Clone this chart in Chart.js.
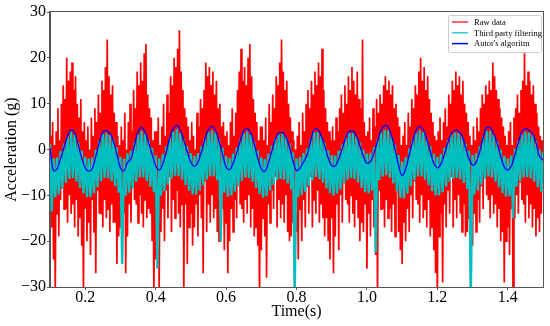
<!DOCTYPE html>
<html><head><meta charset="utf-8">
<script src="https://cdn.jsdelivr.net/npm/chart.js@4/dist/chart.umd.min.js"></script>
<style>html,body{margin:0;padding:0;background:#fff}#wrap{width:550px;height:326px;position:relative}</style>
</head><body><div id="wrap"><canvas id="c" width="550" height="326"></canvas></div>
<script>
const seriesNames = ['Raw data', 'Third party filtering', "Autor's algoritm"];
const seriesColors = ['#ff0000', '#00bfbf', '#0000ff'];
const tStart = 0.1;
const rawStep = 0.0025;
const filteredStep = 0.005;
const algorithmStep = 0.01;
const xTicks = [0.2, 0.4, 0.6, 0.8, 1.0, 1.2, 1.4];
const yTicks = [-30, -20, -10, 0, 10, 20, 30];

const rawData = [
-10,3,-17,6,-24,1,-31,4,-14,9,-19,2,-11,10,-8,14,-13,11,-13,20,-16,15,-10,17,-14,19,-12,13,-17,16,-11,10,-19,7,-15,11,-21,4,-32,6,
-13,2,-20,5,-16,0,-23,7,-11,3,-18,9,-27,6,-9,12,-14,8,-14,15,-17,13,-11,18,-15,24,-13,16,-18,12,-12,14,-16,8,-16,6,-25,3,-19,1,
-17,5,-22,2,-14,8,-27,0,-19,6,-12,10,-16,4,-8,13,-11,9,-12,17,-16,14,-10,19,-14,15,-17,21,-11,23,-15,12,-13,9,-14,7,-20,2,-33,4,
-24,4,-15,7,-31,1,-18,5,-13,10,-20,3,-9,12,-15,8,-6,16,-18,14,-11,20,-15,18,-9,22,-14,26,-17,17,-12,13,-32,9,-12,7,-25,5,-17,2,
-14,6,-21,3,-17,0,-12,8,-19,5,-10,11,-15,9,-27,13,-7,19,-18,16,-12,18,-16,14,-10,17,-15,12,-13,15,-18,9,-20,10,-18,5,-13,6,-22,3,
-16,4,-27,1,-20,6,-13,9,-18,3,-11,8,-15,13,-8,17,-12,22,-13,15,-16,18,-11,14,-14,20,-10,23,-17,16,-13,11,-19,8,-17,6,-21,2,-33,5,
-22,5,-15,2,-19,7,-28,1,-12,10,-16,6,-9,12,-13,9,-6,16,-17,14,-11,19,-15,24,-12,17,-16,13,-10,15,-18,10,-20,7,-19,4,-16,2,-34,0,
-18,3,-24,6,-13,1,-20,8,-11,4,-17,10,-8,13,-14,9,-6,15,-17,12,-11,17,-14,14,-9,19,-16,16,-12,22,-15,13,-19,9,-15,6,-20,4,-24,2,
-15,5,-27,2,-19,7,-12,4,-22,9,-10,12,-16,8,-7,14,-11,10,-12,16,-16,13,-10,18,-14,15,-17,12,-11,17,-15,11,-20,9,-16,24,-18,6,-12,3,
-26,4,-14,7,-19,2,-11,9,-17,5,-23,11,-33,8,-9,12,-13,10,-13,14,-17,16,-11,13,-15,15,-13,12,-18,14,-12,9,-19,10,-9,7,-18,5,-22,1,
-25,3,-16,6,-20,1,-13,8,-18,5,-10,11,-15,9,-7,14,-11,12,-12,17,-16,20,-10,15,-15,18,-13,13,-17,16,-11,11,-19,8,-17,6,-22,3,-27,2,
-33,4,-19,7,-14,2,-29,6,-12,9,-17,5,-9,12,-14,10,-6,15,-17,13,-11,17,-15,14,-10,16,-14,12,-18,15,-12,10,-19,8,-18,6,-15,3,-34,1,
-21,5,-14,2,-18,7,-11,4,-16,9,-8,12,-13,10,-6,14,-10,12,-11,15,-15,13,-10,19,-14,16,-12,13,-17,11,-13,9,-20,7,-18,5,-29,3,-20,1,
-17,4,-23,6,-13,1,-33,7,-15,9,-10,12,-14,8,-7,13,-11,15,-12,21,-16,14,-10,17,-15,15,-12,12,-17,14,-13,10,-19,8,-15,5,-18,3,-14,2,
-6
];

const filteredData = [
1.2,-13.5, -1.9,-10.4, -1.7,-9.8, -0.3,-8.6, 1.3,-7.3, 2.9,-6.4, 3.8,-6.2, 3.3,-7.0, 1.6,-8.4, -0.2,-9.6,
-1.6,-10.4, -2.0,-10.4, -1.7,-9.6, 0.0,-8.2, 2.0,-6.9, 3.4,-6.2, 3.6,-6.3, 3.2,-6.9, 2.2,-8.0, 0.4,-9.4,
-1.6,-25, -2.0,-10.1, -0.8,-9.4, -0.3,-8.5, 1.6,-7.0, 3.4,-6.1, 4.1,-6.1, 3.4,-6.9, 2.0,-8.1, 0.4,-9.3,
-1.2,-26, -1.9,-10.1, -1.0,-9.1, 0.7,-7.7, 2.6,-6.4, 3.9,-5.7, 4.4,-5.8, 3.7,-6.6, 2.3,-7.8, 0.7,-9.0,
-0.8,-9.8, -1.4,-9.8, -0.8,-9.0, 0.7,-7.8, 2.4,-6.6, 3.8,-5.9, 4.2,-5.9, 3.7,-6.7, 2.2,-20, 0.4,-9.4,
-1.4,-10.3, -1.8,-10.0, -0.9,-9.2, 0.5,-8.0, 2.2,-6.8, 3.6,-6.1, 3.9,-6.2, 3.3,-7.0, 1.8,-8.4, -0.2,-9.7,
-1.7,-10.5, -2.1,-10.2, -0.9,-9.0, 0.8,-7.7, 2.5,-6.7, 3.3,-6.4, 3.4,-6.6, 2.8,-7.4, 1.3,-8.7, -0.6,-31,
-1.9,-10.4, -1.6,-9.9, -0.7,-9.2, 0.2,-8.0, 2.2,-6.7, 3.8,-6.0, 3.8,-6.4, 2.9,-7.2, 1.5,-8.5, -0.2,-9.5,
-1.2,-10.0, -1.3,-9.6, -0.3,-8.7, 1.1,-7.5, 2.7,-6.6, 3.6,-6.2, 3.6,-6.5, 2.9,-7.2, 1.5,-8.4, 0.0,-9.3,
-0.9,-9.6, -0.7,-9.0, 0.5,-22.5, 2.2,-6.7, 3.7,-5.9, 4.3,-5.6, 4.2,-6.2, 2.9,-7.4, 1.0,-9.1, -1.2,-10.5,
-2.6,-10.7, -1.7,-9.6, 0.2,-8.0, 2.2,-6.7, 3.7,-5.9, 4.2,-5.9, 3.8,-6.6, 2.4,-7.8, 0.7,-9.1, -0.9,-10.0,
-1.6,-10.0, -1.0,-9.3, 0.4,-8.1, 2.0,-7.0, 3.2,-6.3, 3.7,-6.2, 3.6,-6.5, 2.9,-7.3, 1.3,-8.6, -0.3,-32,
-1.2,-9.8, -0.8,-9.0, 0.7,-7.7, 2.6,-6.4, 4.1,-5.8, 4.1,-6.1, 3.2,-7.0, 1.8,-8.3, 0.0,-9.5, -1.4,-10.3,
-1.9,-10.2, -1.3,-15, 0.2,-8.1, 2.0,-6.9, 3.4,-6.1, 3.9,-6.0, 3.7,-6.3, 3.2,-7.0, 2.0,-8.2, 0.0,-9.2,
-0.5
];

const algorithmData = [
0.3,-4.6,-4.2,-2.0,0.5,3.0,4.3,3.6,1.0,-1.8,
-4.0,-4.7,-4.2,-1.5,1.5,3.8,4.1,3.5,1.8,-1.0,
-4.0,-4.7,-2.8,-2.0,1.0,3.8,4.8,3.8,1.5,-1.0,
-3.5,-4.5,-3.2,-0.5,2.5,4.6,5.3,4.2,2.0,-0.5,
-2.8,-3.7,-2.8,-0.5,2.2,4.4,5.0,4.2,1.8,-1.0,
-3.8,-4.4,-3.0,-0.8,1.8,4.0,4.6,3.6,1.2,-1.8,
-4.2,-4.8,-3.0,-0.3,2.3,3.6,3.7,2.8,0.5,-2.5,
-4.6,-4.0,-2.7,-1.2,1.8,4.3,4.4,3.0,0.8,-1.8,
-3.5,-3.6,-2.0,0.2,2.6,4.0,4.0,3.0,0.8,-1.5,
-3.0,-2.6,-0.8,1.8,4.2,5.2,5.0,3.0,0.0,-3.5,
-5.7,-4.2,-1.2,1.8,4.2,5.0,4.3,2.2,-0.5,-3.0,
-4.0,-3.2,-1.0,1.5,3.5,4.2,4.0,3.0,0.5,-2.0,
-3.4,-2.8,-0.5,2.5,4.8,4.8,3.5,1.2,-1.5,-3.8,
-4.5,-3.6,-1.2,1.5,3.8,4.6,4.2,3.5,1.5,-1.5,
-2.3
];

function toPoints(values, step) {
  return values.map((v, i) => ({ x: +(tStart + i * step).toFixed(5), y: v }));
}

const serif = "'Liberation Serif', 'Times New Roman', serif";
Chart.defaults.font.family = serif;
Chart.defaults.color = '#000';

const frameAndLegend = {
  id: 'frameAndLegend',
  afterDraw(chart) {
    const { ctx, chartArea: a } = chart;
    ctx.save();
    ctx.strokeStyle = '#555';
    ctx.lineWidth = 1;
    ctx.strokeRect(Math.round(a.left) - 0.5, Math.round(a.top) - 0.5, Math.round(a.right - a.left) + 1, Math.round(a.bottom - a.top) + 1);
    const bx = 448, by = 15, bw = 93, bh = 37;
    ctx.fillStyle = 'rgba(255,255,255,0.85)';
    ctx.strokeStyle = '#cccccc';
    ctx.beginPath();
    ctx.roundRect(bx + 0.5, by + 0.5, bw, bh, 2);
    ctx.fill();
    ctx.stroke();
    ctx.font = '8.5px ' + serif;
    ctx.textBaseline = 'middle';
    ctx.textAlign = 'left';
    chart.data.datasets.forEach((ds, i) => {
      const yy = 22 + i * 10.8;
      ctx.strokeStyle = ds.borderColor;
      ctx.lineWidth = i === 2 ? 1.5 : 1.2;
      ctx.beginPath();
      ctx.moveTo(452, yy);
      ctx.lineTo(468, yy);
      ctx.stroke();
      ctx.fillStyle = '#000';
      ctx.fillText(ds.label, 474, yy + 0.5);
    });
    ctx.restore();
  }
};

new Chart(document.getElementById('c'), {
  type: 'line',
  data: {
    datasets: [
      { label: seriesNames[0], data: toPoints(rawData, rawStep), borderColor: seriesColors[0], borderWidth: 1.7, pointRadius: 0, tension: 0, order: 3 },
      { label: seriesNames[1], data: toPoints(filteredData, filteredStep), borderColor: seriesColors[1], borderWidth: 2.4, pointRadius: 0, tension: 0, order: 2 },
      { label: seriesNames[2], data: toPoints(algorithmData, algorithmStep), borderColor: seriesColors[2], borderWidth: 1.3, pointRadius: 0, tension: 0.4, order: 1 }
    ]
  },
  options: {
    responsive: false,
    animation: false,
    devicePixelRatio: 1,
    parsing: false,
    layout: { padding: { top: 12, right: 7, left: 0, bottom: 0 } },
    plugins: { legend: { display: false }, tooltip: { enabled: false } },
    scales: {
      x: {
        type: 'linear', min: 0.1, max: 1.5,
        afterBuildTicks: s => { s.ticks = xTicks.map(v => ({ value: v })); },
        afterFit: s => { s.height = 39; },
        grid: { display: true, drawOnChartArea: false, drawTicks: true, tickLength: 3, color: '#555' },
        border: { color: '#555', width: 1 },
        ticks: { font: { size: 16, family: serif }, color: '#000', padding: -2, maxRotation: 0, autoSkip: false, callback: v => v.toFixed(1) },
        title: { display: true, text: 'Time(s)', font: { size: 16, family: serif }, color: '#000', padding: { top: 0, bottom: 5 } }
      },
      y: {
        type: 'linear', min: -30, max: 30,
        afterBuildTicks: s => { s.ticks = yTicks.map(v => ({ value: v })); },
        afterFit: s => { s.width = 50; },
        grid: { display: true, drawOnChartArea: false, drawTicks: true, tickLength: 3, color: '#555' },
        border: { color: '#555', width: 1 },
        ticks: { font: { size: 16, family: serif }, color: '#000', padding: 1, autoSkip: false, callback: v => (v < 0 ? '\u2212' + Math.abs(v) : String(v)) },
        title: { display: true, text: 'Acceleration (g)', font: { size: 16, family: serif }, color: '#000', padding: { top: 2, bottom: 0 } }
      }
    }
  },
  plugins: [frameAndLegend]
});
</script></body></html>
